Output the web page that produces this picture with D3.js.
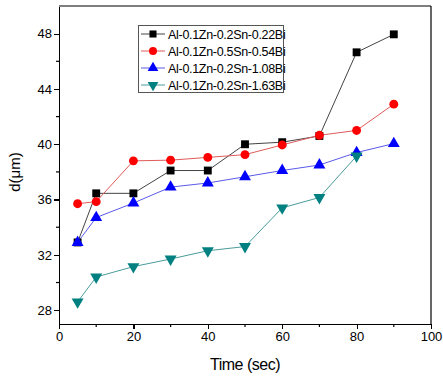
<!DOCTYPE html>
<html>
<head>
<meta charset="utf-8">
<script src="https://cdn.jsdelivr.net/npm/d3@7"></script>
<style>
  body { margin: 0; background: #fff; }
  .axis path, .axis line { stroke: #000; stroke-width: 1.2; shape-rendering: crispEdges; }
  .axis text { font-family: "Liberation Sans", Arial, sans-serif; font-size: 13px; fill: #000; }
</style>
</head>
<body>
<script>
var times = [5, 10, 20, 30, 40, 50, 60, 70, 80, 90];
var names = ["Al-0.1Zn-0.2Sn-0.22Bi", "Al-0.1Zn-0.5Sn-0.54Bi", "Al-0.1Zn-0.2Sn-1.08Bi", "Al-0.1Zn-0.2Sn-1.63Bi"];
var bi022 = [32.9, 36.45, 36.45, 38.1, 38.1, 40.0, 40.15, 40.6, 46.65, 47.95];
var bi054 = [35.7, 35.85, 38.8, 38.85, 39.05, 39.25, 39.95, 40.65, 41.0, 42.9];
var bi108 = [32.9, 34.7, 35.75, 36.9, 37.2, 37.65, 38.1, 38.5, 39.4, 40.05];
var bi163 = [28.6, 30.4, 31.15, 31.7, 32.3, 32.6, 35.4, 36.15, 39.15];
var yTicks = [28, 32, 36, 40, 44, 48];
var xTicks = [0, 20, 40, 60, 80, 100];

var series = [
  {name: names[0], vals: bi022, line: "#444", fill: "#000", sym: d3.symbolSquare},
  {name: names[1], vals: bi054, line: "#e05a5a", fill: "#ff0000", sym: d3.symbolCircle},
  {name: names[2], vals: bi108, line: "#5a5ae8", fill: "#0000ff", sym: d3.symbolTriangle},
  {name: names[3], vals: bi163, line: "#4a9c9c", fill: "#008080", sym: "down"}
];

var width = 443, height = 378;
var padL = 59, padR = 431, padT = 6, padB = 324;

var svg = d3.select("body").append("svg")
  .attr("width", width)
  .attr("height", height);

var x = d3.scaleLinear().domain([0, 100]).range([padL, padR]);
var y = d3.scaleLinear().domain([27, 50]).range([padB, padT]);

// frame top/right
svg.append("line").attr("x1", padL).attr("x2", padR).attr("y1", padT).attr("y2", padT)
  .attr("stroke", "#000").attr("stroke-width", 1.2);
svg.append("line").attr("x1", padR).attr("x2", padR).attr("y1", padT).attr("y2", padB)
  .attr("stroke", "#000").attr("stroke-width", 1.2);

// minor ticks
var xMinor = d3.range(10, 100, 20);
var yMinor = d3.range(30, 50, 4);
svg.append("g").selectAll("line").data(xMinor).enter().append("line")
  .attr("x1", d => x(d)).attr("x2", d => x(d)).attr("y1", padB).attr("y2", padB + 3)
  .attr("stroke", "#000").attr("stroke-width", 1.2);
svg.append("g").selectAll("line").data(yMinor).enter().append("line")
  .attr("x1", padL).attr("x2", padL - 3).attr("y1", d => y(d)).attr("y2", d => y(d))
  .attr("stroke", "#000").attr("stroke-width", 1.2);

svg.append("g")
  .attr("class", "axis")
  .attr("transform", "translate(0," + padB + ")")
  .call(d3.axisBottom(x).tickValues(xTicks).tickSize(5).tickSizeOuter(0).tickPadding(3));

svg.append("g")
  .attr("class", "axis")
  .attr("transform", "translate(" + padL + ",0)")
  .call(d3.axisLeft(y).tickValues(yTicks).tickSize(5).tickSizeOuter(0).tickPadding(2));

// axis titles
svg.append("text")
  .attr("x", 245).attr("y", 370)
  .attr("text-anchor", "middle")
  .attr("font-family", "Liberation Sans, Arial, sans-serif")
  .attr("font-size", "16px")
  .attr("letter-spacing", "-0.5")
  .text("Time (sec)");

svg.append("text")
  .attr("transform", "translate(20,172) rotate(-90)")
  .attr("text-anchor", "middle")
  .attr("font-family", "Liberation Sans, Arial, sans-serif")
  .attr("font-size", "15px")
  .text("d(μm)");

function symPath(s, size) {
  if (s === "down") {
    return d3.symbol().type(d3.symbolTriangle).size(size)();
  }
  return d3.symbol().type(s).size(size)();
}

var line = d3.line()
  .x((d, i) => x(times[i]))
  .y(d => y(d));

series.forEach(function (s) {
  svg.append("path")
    .attr("d", line(s.vals))
    .attr("fill", "none")
    .attr("stroke", s.line)
    .attr("stroke-width", 1);
});

series.forEach(function (s) {
  svg.append("g").selectAll("path")
    .data(s.vals)
    .enter()
    .append("path")
    .attr("d", symPath(s.sym, 62))
    .attr("transform", function (d, i) {
      return "translate(" + x(times[i]) + "," + y(d) + ")" + (s.sym === "down" ? " rotate(180)" : "");
    })
    .attr("fill", s.fill);
});

// legend
var lg = svg.append("g");
lg.append("rect")
  .attr("x", 138.5).attr("y", 25.5)
  .attr("width", 145).attr("height", 67)
  .attr("fill", "#fff")
  .attr("stroke", "#555")
  .attr("stroke-width", 1);

series.forEach(function (s, i) {
  var yy = 34 + i * 17;
  lg.append("line")
    .attr("x1", 141).attr("x2", 165).attr("y1", yy).attr("y2", yy)
    .attr("stroke", s.line).attr("stroke-width", 1);
  lg.append("path")
    .attr("d", symPath(s.sym, 50))
    .attr("transform", "translate(153," + yy + ")" + (s.sym === "down" ? " rotate(180)" : ""))
    .attr("fill", s.fill);
  lg.append("text")
    .attr("x", 168).attr("y", yy + 4.5)
    .attr("font-family", "Liberation Sans, Arial, sans-serif")
    .attr("font-size", "12.5px")
    .attr("letter-spacing", "-0.3")
    .text(s.name);
});
</script>
</body>
</html>
